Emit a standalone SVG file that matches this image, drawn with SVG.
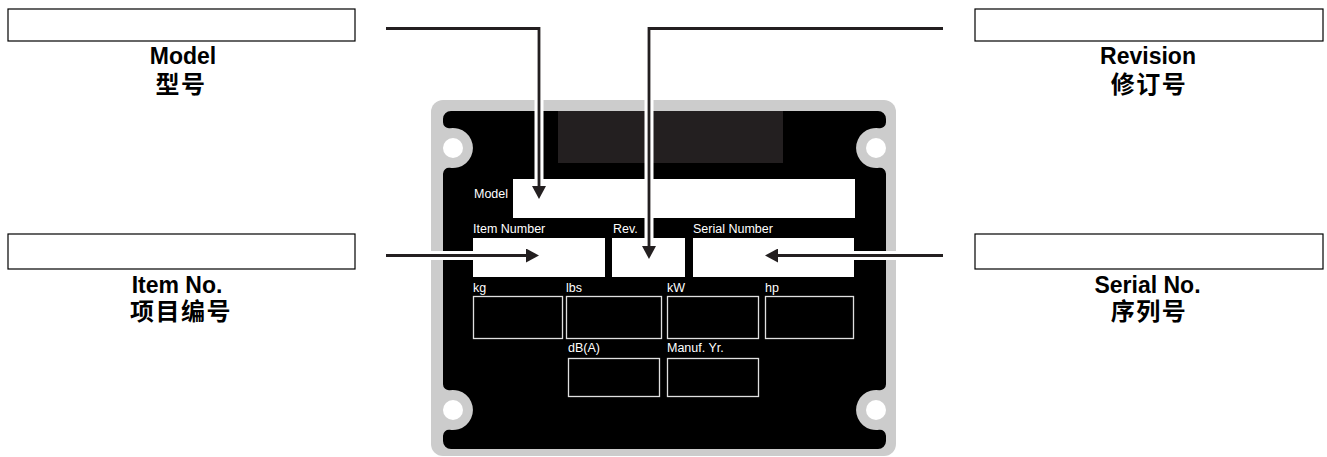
<svg xmlns="http://www.w3.org/2000/svg" width="1327" height="457" viewBox="0 0 1327 457">
<style>
  .lbox { fill: #ffffff; stroke: #000000; stroke-width: 1.2; }
  .en { font-family: "Liberation Sans", Arial, sans-serif; font-weight: bold; font-size: 23px; fill: #000000; text-anchor: middle; }
  .zh { font-family: "Liberation Sans", "Noto Sans CJK SC", sans-serif; font-weight: bold; font-size: 24px; letter-spacing: 1.5px; fill: #000000; text-anchor: middle; }
  .pl { font-family: "Liberation Sans", Arial, sans-serif; font-size: 12.5px; fill: #ffffff; }
  .wbox { fill: #ffffff; }
  .obox { fill: none; stroke: #e0e0e0; stroke-width: 1.3; }
  .halo { fill: none; stroke: #ffffff; stroke-width: 9; }
  .lnm { fill: none; stroke: #231f20; stroke-width: 2.8; marker-end: url(#ah); }
</style>
<defs>
  <marker id="ah" markerUnits="userSpaceOnUse" markerWidth="14" markerHeight="14" viewBox="0 0 13 14" refX="0" refY="7" orient="auto">
    <path d="M0,0 L13,7 L0,14 z" fill="#231f20"/>
  </marker>
</defs>

<g id="model-label">
  <rect class="lbox" x="8" y="9" width="347" height="32"/>
  <text class="en" x="183" y="64">Model</text>
  <text class="zh" x="181" y="93">型号</text>
</g>
<g id="revision-label">
  <rect class="lbox" x="975" y="9" width="348" height="32"/>
  <text class="en" x="1148" y="64">Revision</text>
  <text class="zh" x="1149" y="93">修订号</text>
</g>
<g id="item-label">
  <rect class="lbox" x="8" y="234" width="347" height="35"/>
  <text class="en" x="177" y="293">Item No.</text>
  <text class="zh" x="181" y="320">项目编号</text>
</g>
<g id="serial-label">
  <rect class="lbox" x="975" y="234" width="348" height="35"/>
  <text class="en" x="1147.5" y="293">Serial No.</text>
  <text class="zh" x="1149" y="320">序列号</text>
</g>

<g id="plate">
  <rect x="431" y="100" width="465" height="356" rx="12" fill="#cccccc"/>
  <path fill="#000000" d="M451,111 H878 A8,8 0 0 1 886,119 V122.3 A6,6 0 0 1 879.08,128.23 A20,20 0 1 0 879.08,167.77 A6,6 0 0 1 886,173.7 V384.3 A6,6 0 0 1 879.08,390.23 A20,20 0 1 0 879.08,429.77 A6,6 0 0 1 886,435.7 V441 A8,8 0 0 1 878,449 H451 A8,8 0 0 1 443,441 V435.7 A6,6 0 0 1 449.92,429.77 A20,20 0 1 0 449.92,390.23 A6,6 0 0 1 443,384.3 V173.7 A6,6 0 0 1 449.92,167.77 A20,20 0 1 0 449.92,128.23 A6,6 0 0 1 443,122.3 V119 A8,8 0 0 1 451,111 Z"/>
  <circle cx="453" cy="148" r="10" fill="#ffffff"/>
  <circle cx="876" cy="148" r="10" fill="#ffffff"/>
  <circle cx="453" cy="410" r="10" fill="#ffffff"/>
  <circle cx="876" cy="410" r="10" fill="#ffffff"/>
  <rect x="558" y="111" width="225" height="52" fill="#231f20"/>

  <text class="pl" x="474" y="198">Model</text>
  <rect class="wbox" x="513" y="179" width="342" height="39"/>

  <text class="pl" x="473" y="233">Item Number</text>
  <text class="pl" x="613" y="233">Rev.</text>
  <text class="pl" x="693" y="233">Serial Number</text>
  <rect class="wbox" x="473" y="238" width="132" height="39"/>
  <rect class="wbox" x="612" y="238" width="73" height="39"/>
  <rect class="wbox" x="693" y="238" width="161" height="39"/>

  <text class="pl" x="473" y="291.5">kg</text>
  <text class="pl" x="566" y="291.5">lbs</text>
  <text class="pl" x="667" y="291.5">kW</text>
  <text class="pl" x="765" y="291.5">hp</text>
  <rect class="obox" x="473.5" y="296.5" width="89" height="42"/>
  <rect class="obox" x="566.5" y="296.5" width="95" height="42"/>
  <rect class="obox" x="667.5" y="296.5" width="91" height="42"/>
  <rect class="obox" x="765.5" y="296.5" width="88" height="42"/>

  <text class="pl" x="568" y="352">dB(A)</text>
  <text class="pl" x="667" y="352">Manuf. Yr.</text>
  <rect class="obox" x="568.5" y="358.5" width="91" height="38"/>
  <rect class="obox" x="667.5" y="358.5" width="91" height="38"/>
</g>

<g id="connectors">
  <path class="halo" d="M386,28.5 H539 V186"/>
  <path class="halo" d="M943,28.5 H649 V246"/>
  <path class="halo" d="M386,255.5 H526"/>
  <path class="halo" d="M943,255.5 H778"/>
  <path class="lnm" d="M386,28.5 H539 V186"/>
  <path class="lnm" d="M943,28.5 H649 V246"/>
  <path class="lnm" d="M386,255.5 H526"/>
  <path class="lnm" d="M943,255.5 H778"/>
</g>
</svg>
